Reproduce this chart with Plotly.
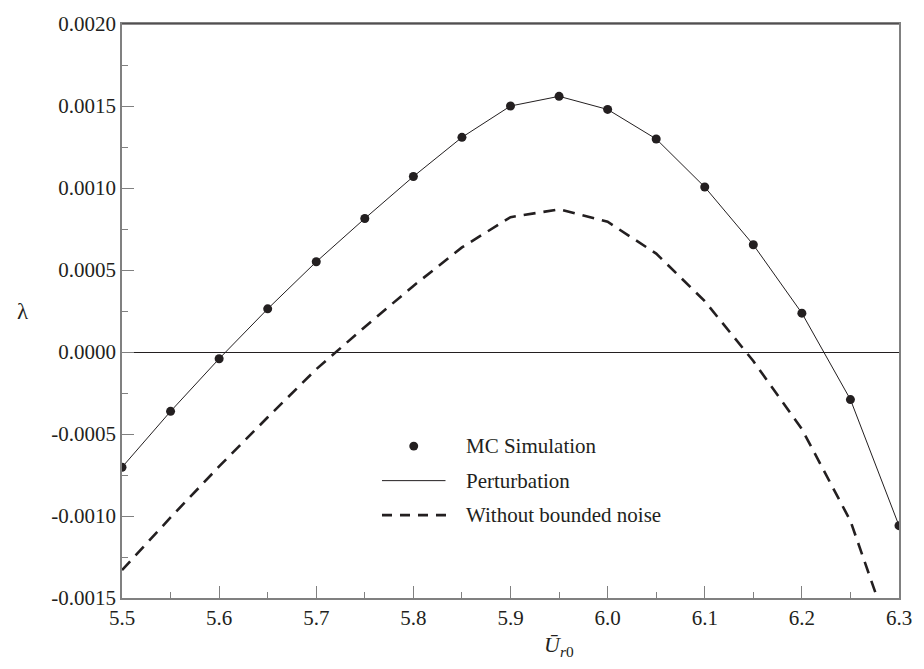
import plotly.graph_objects as go

# ---- data ----
u_vals = [5.50, 5.55, 5.60, 5.65, 5.70, 5.75, 5.80, 5.85, 5.90,
          5.95, 6.00, 6.05, 6.10, 6.15, 6.20, 6.25, 6.30]
mc_sim = [-0.000703, -0.000362, -0.000041, 0.000263, 0.000550, 0.000814,
          0.001070, 0.001309, 0.001500, 0.001559, 0.001479, 0.001299,
          0.001006, 0.000654, 0.000237, -0.000290, -0.001059]
perturbation = [-0.000703, -0.000362, -0.000041, 0.000263, 0.000550, 0.000814,
                0.001070, 0.001309, 0.001500, 0.001559, 0.001479, 0.001299,
                0.001006, 0.000654, 0.000237, -0.000290, -0.001059]
no_noise = [-0.001330, -0.001009, -0.000698, -0.000398, -0.000105, 0.000153,
            0.000403, 0.000638, 0.000822, 0.000870, 0.000794, 0.000600,
            0.000310, -0.000055, -0.000470, -0.001030, -0.001880]

x_ticks = [5.5, 5.6, 5.7, 5.8, 5.9, 6.0, 6.1, 6.2, 6.3]
x_ticktext = ["5.5", "5.6", "5.7", "5.8", "5.9", "6.0", "6.1", "6.2", "6.3"]
y_ticks = [-0.0015, -0.0010, -0.0005, 0.0, 0.0005, 0.0010, 0.0015, 0.0020]
y_ticktext = ["-0.0015", "-0.0010", "-0.0005", "0.0000", "0.0005", "0.0010", "0.0015", "0.0020"]

series_names = ["MC Simulation", "Perturbation", "Without bounded noise"]

FONT = "Liberation Serif"
INK = "#231f20"
AXIS = "#808080"

fig = go.Figure()

fig.add_trace(go.Scatter(x=u_vals, y=no_noise, mode="lines", name=series_names[2],
                         line=dict(color=INK, width=2.6, dash="12px,8px"),
                         showlegend=False))
fig.add_trace(go.Scatter(x=u_vals, y=perturbation, mode="lines", name=series_names[1],
                         line=dict(color=INK, width=1), showlegend=False))
fig.add_trace(go.Scatter(x=u_vals, y=mc_sim, mode="markers", name=series_names[0],
                         marker=dict(color=INK, size=9), showlegend=False))

# ---- custom legend ----
L, R, T, B = 122, 905, 16, 598
W, H = R - L, B - T
def px(xp):
    return (xp - L) / W
def py(yp):
    return (B - yp) / H

rows = [444, 479, 514]
fig.add_shape(type="circle", xref="paper", yref="paper",
              x0=px(416 - 4.5), x1=px(416 + 4.5), y0=py(rows[0] + 4.5), y1=py(rows[0] - 4.5),
              fillcolor=INK, line=dict(color=INK, width=0))
fig.add_shape(type="line", xref="paper", yref="paper",
              x0=px(384), x1=px(448), y0=py(rows[1]), y1=py(rows[1]),
              line=dict(color=INK, width=1))
fig.add_shape(type="line", xref="paper", yref="paper",
              x0=px(384), x1=px(450), y0=py(rows[2]), y1=py(rows[2]),
              line=dict(color=INK, width=2.6, dash="10px,8px"))
for name, yr in zip(series_names, rows):
    fig.add_annotation(text=name, xref="paper", yref="paper", x=px(467), y=py(yr),
                       xanchor="left", yanchor="middle", showarrow=False,
                       font=dict(family=FONT, size=21, color=INK))

# top frame line (dark)
fig.add_shape(type="line", xref="paper", yref="paper", x0=0, x1=1, y0=1, y1=1,
              line=dict(color=INK, width=1.1))

# axis titles
fig.add_annotation(text="<i>Ū</i><sub><i>r</i>0</sub>", xref="paper", yref="paper",
                   x=px(562), y=py(647), xanchor="center", yanchor="middle",
                   showarrow=False, font=dict(family=FONT, size=22, color=INK))
fig.add_annotation(text="λ", xref="paper", yref="paper",
                   x=px(22), y=py(307), xanchor="center", yanchor="middle",
                   showarrow=False, font=dict(family=FONT, size=23, color=INK))

fig.update_layout(
    width=924, height=669,
    margin=dict(l=L, r=924 - R, t=T, b=669 - B),
    paper_bgcolor="white", plot_bgcolor="white",
    font=dict(family=FONT, size=21, color=INK),
    showlegend=False,
)
fig.update_xaxes(range=[5.5, 6.3], tickvals=x_ticks, ticktext=x_ticktext,
                 ticks="inside", ticklen=12, tickwidth=1.3, tickcolor=AXIS,
                 showline=True, linecolor=AXIS, linewidth=1.5, mirror=True,
                 showgrid=False, zeroline=False,
                 minor=dict(dtick=0.05, tick0=5.5, ticks="inside", ticklen=6,
                            tickcolor=AXIS, tickwidth=1.2, showgrid=False),
                 tickfont=dict(family=FONT, size=21, color=INK))
fig.update_yaxes(range=[-0.0015, 0.0020], tickvals=y_ticks, ticktext=y_ticktext,
                 ticks="inside", ticklen=12, tickwidth=1.3, tickcolor=AXIS,
                 showline=True, linecolor=AXIS, linewidth=1.5, mirror=True,
                 showgrid=False, zeroline=True, zerolinecolor=INK, zerolinewidth=1.2,
                 minor=dict(dtick=0.00025, tick0=-0.0015, ticks="inside", ticklen=6,
                            tickcolor=AXIS, tickwidth=1.2, showgrid=False),
                 tickfont=dict(family=FONT, size=21, color=INK))

fig.write_html("out.html")
